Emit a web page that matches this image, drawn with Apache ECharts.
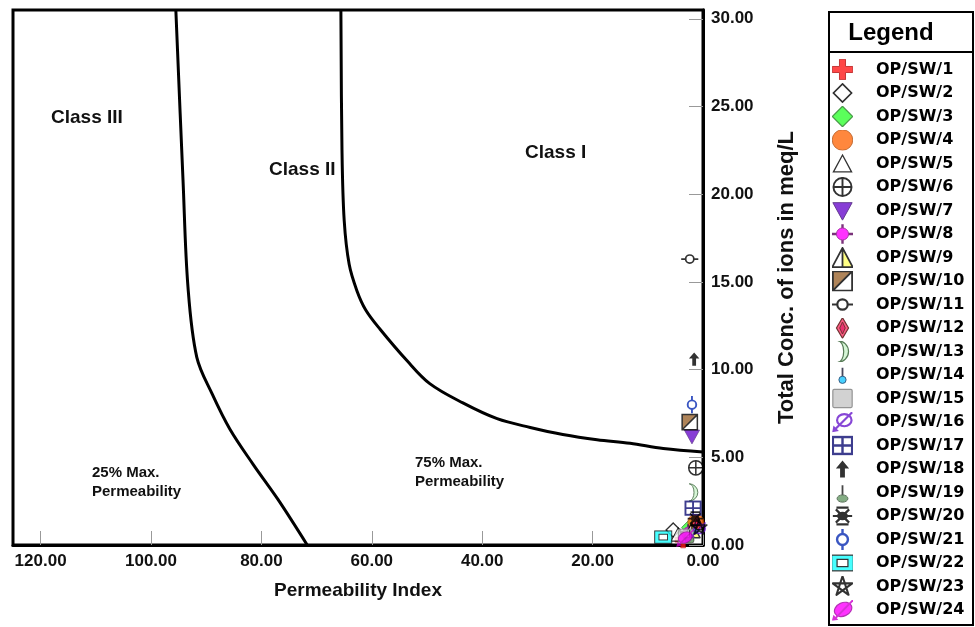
<!DOCTYPE html>
<html>
<head>
<meta charset="utf-8">
<script src="https://cdn.jsdelivr.net/npm/echarts@6/dist/echarts.min.js"></script>
<style>
html,body{margin:0;padding:0;background:#fff;}
#chart{width:975px;height:627px;}
</style>
</head>
<body>
<div id="chart"></div>
<script>
// ---------------- data ----------------
const sampleNames = ['OP/SW/1','OP/SW/2','OP/SW/3','OP/SW/4','OP/SW/5','OP/SW/6','OP/SW/7','OP/SW/8',
  'OP/SW/9','OP/SW/10','OP/SW/11','OP/SW/12','OP/SW/13','OP/SW/14','OP/SW/15','OP/SW/16',
  'OP/SW/17','OP/SW/18','OP/SW/19','OP/SW/20','OP/SW/21','OP/SW/22','OP/SW/23','OP/SW/24'];
// Permeability Index (x) and Total Conc. of ions in meq/L (y)
const permIndex = [3.6, 5.4, 2.4, 1.3, 4.5, 1.3, 2.0, 2.7, 2.0, 2.4, 2.4, 1.1,
                   1.8, 1.4, 3.1, 0.9, 1.8, 1.6, 2.4, 1.4, 2.0, 7.2, 0.7, 3.3];
const totalConc = [0.3, 0.85, 1.0, 1.3, 0.6, 4.4, 6.2, 0.75, 0.85, 7.0, 16.3, 1.2,
                   3.0, 1.0, 0.5, 0.85, 2.1, 10.6, 0.55, 1.5, 8.0, 0.45, 1.0, 0.4];
// Class I / Class II boundary curve
const boundary1PI = [65.6, 65.4, 65.0, 64.1, 62.7, 61.1, 58.5, 53.6, 49.5, 43.5, 37.3, 31.3, 25.4, 19.2, 13.2, 7.2, 0];
const boundary1TC = [30.5, 22.5, 18.5, 16.0, 14.5, 13.4, 12.3, 10.5, 9.2, 8.1, 7.2, 6.7, 6.3, 6.0, 5.8, 5.5, 5.3];
// Class II / Class III boundary curve
const boundary2PI = [95.5, 94.2, 93.3, 91.7, 88.9, 85.7, 81.5, 77.0, 71.7];
const boundary2TC = [30.5, 20.8, 14.7, 10.7, 8.6, 6.6, 4.6, 2.6, 0];
// axis ticks
const xTicks = [0, 20, 40, 60, 80, 100, 120];
const yTicks = [0, 5, 10, 15, 20, 25, 30];
const xTickStep = 20;
const yTickStep = 5;

// ---------------- marker styles ----------------
const markerSvg = [
 '<path d="M7.5 1.5h5v6h6v5h-6v6h-5v-6h-6v-5h6z" fill="#ff1a1a" stroke="#b30000" stroke-width="0.8"/>',
 '<path d="M10 2.5L17.5 10L10 17.5L2.5 10Z" fill="#fff" stroke="#000" stroke-width="1.4"/>',
 '<path d="M10 1.5L18.5 10L10 18.5L1.5 10Z" fill="#33ff33" stroke="#1a801a" stroke-width="1"/>',
 '<circle cx="10" cy="10" r="8.5" fill="#ff6a0d" stroke="#b34700" stroke-width="0.8"/>',
 '<path d="M10 3L17.5 17L2.5 17Z" fill="#fff" stroke="#000" stroke-width="1.1"/>',
 '<circle cx="10" cy="10" r="7.5" fill="#fff" stroke="#000" stroke-width="1.6"/><path d="M2.5 10H17.5M10 2.5V17.5" stroke="#000" stroke-width="1.6"/>',
 '<path d="M2 3.5H18L10 18Z" fill="#6a0dcc" stroke="#3d0a73" stroke-width="0.8"/>',
 '<path d="M1 10H19M10 2V18" stroke="#5a005a" stroke-width="2"/><circle cx="10" cy="10" r="5" fill="#ff00ff" stroke="#8c008c" stroke-width="0.8"/>',
 '<path d="M10 2L10 18L1.5 18Z" fill="#fff"/><path d="M10 2L10 18L18.5 18Z" fill="#ffff66"/><path d="M10 2L18.5 18L1.5 18Z M10 2V18" fill="none" stroke="#000" stroke-width="1.5" stroke-linejoin="round"/>',
 '<rect x="2" y="2" width="16" height="16" fill="#fff"/><path d="M2 2H18L2 18Z" fill="#9c6630"/><path d="M2 2H18V18H2Z M18 2L2 18" fill="none" stroke="#000" stroke-width="1.6"/>',
 '<path d="M1 10H6M14 10H19" stroke="#000" stroke-width="1.8"/><circle cx="10" cy="10" r="4.3" fill="#fff" stroke="#000" stroke-width="1.8"/>',
 '<path d="M10 1.5L15 10L10 18.5L5 10Z" fill="#ff3366" stroke="#4d0000" stroke-width="1"/><path d="M10 5L12.3 10L10 15L7.7 10Z" fill="#e6004c" stroke="#4d0000" stroke-width="0.8"/>',
 '<path d="M6 1A9 9 0 0 1 6 19A5 9 0 0 0 6 1Z" fill="#ccf5cc" stroke="#2d5a2d" stroke-width="1"/>',
 '<path d="M10 4V12" stroke="#1a1a33" stroke-width="1.5"/><circle cx="10" cy="14" r="3" fill="#1ac6ff" stroke="#003366" stroke-width="0.8"/>',
 '<rect x="2" y="2.5" width="16" height="15" rx="1" fill="#c8c8c8" stroke="#7a7a7a" stroke-width="1"/>',
 '<ellipse cx="11.5" cy="8.5" rx="6" ry="5" fill="none" stroke="#6a1acc" stroke-width="1.8"/><path d="M18 2L3.5 16.5" stroke="#6a1acc" stroke-width="1.8"/><path d="M1.5 18.5L2.5 13L7 17.5Z" fill="#6a1acc"/>',
 '<rect x="2" y="3" width="16" height="14" fill="#fff" stroke="#0d0d73" stroke-width="2"/><path d="M10 3V17M2 10H18" stroke="#0d0d73" stroke-width="2"/>',
 '<path d="M10 3L15.5 9.5H12V17H8V9.5H4.5Z" fill="#000"/>',
 '<path d="M10 4V13" stroke="#1a1a1a" stroke-width="1.5"/><ellipse cx="10" cy="15" rx="4.5" ry="3" fill="#669966" stroke="#334d33" stroke-width="0.8"/>',
 '<path d="M2 10H18M4.5 4.5L15.5 15.5M15.5 4.5L4.5 15.5M5 3H15M5 17H15" stroke="#000" stroke-width="1.8"/><ellipse cx="10" cy="10" rx="4.5" ry="3.5" fill="#000"/>',
 '<path d="M10 1V5.5M10 14.5V19" stroke="#0a2db3" stroke-width="2"/><circle cx="10" cy="10" r="4.5" fill="#fff" stroke="#0a2db3" stroke-width="2"/>',
 '<rect x="1" y="3.5" width="18" height="13" fill="#1affff" stroke="#000" stroke-width="1"/><rect x="5.5" y="7" width="9" height="6" fill="#fff" stroke="#000" stroke-width="1"/>',
 '<path d="M10 1.5L15 16.9L1.9 7.4H18.1L5 16.9Z" fill="none" stroke="#000" stroke-width="1.7" stroke-linejoin="round"/>',
 '<ellipse cx="10.5" cy="9.5" rx="7.5" ry="5.5" transform="rotate(-25 10.5 9.5)" fill="#ff00ff" stroke="#a300a3" stroke-width="1"/><path d="M19 1.5L4 17" stroke="#cc00cc" stroke-width="1.6"/><path d="M1 19.5L2.5 14L6.5 18Z" fill="#cc00cc"/>'
];
function svgIcon(inner, viewBox) {
  const svg = '<svg xmlns="http://www.w3.org/2000/svg" width="40" height="40" viewBox="' + viewBox + '" overflow="visible">' + inner + '</svg>';
  return 'image://data:image/svg+xml;charset=utf-8,' + encodeURIComponent(svg);
}
const icons = markerSvg.map(s => svgIcon(s, '0 0 20 20'));
const legendIcons = markerSvg.map(s => svgIcon(s, '1.3 1.3 17.4 17.4'));

const FONT = '"Liberation Sans", Arial, sans-serif';

// ---------------- series ----------------
const series = [];
function curve(pis, tcs) {
  return {
    type: 'line', data: pis.map((p, i) => [p, tcs[i]]), symbol: 'none', smooth: 0.35,
    lineStyle: { color: '#000', width: 3 }, silent: true, z: 1, animation: false
  };
}
series.push(curve(boundary1PI, boundary1TC));
series.push(curve(boundary2PI, boundary2TC));
sampleNames.forEach((n, i) => {
  series.push({
    name: n, type: 'scatter', data: [[permIndex[i], totalConc[i]]],
    symbol: icons[i], symbolSize: 19, symbolKeepAspect: true, z: 3 + i
  });
});

const chart = echarts.init(document.getElementById('chart'));
chart.setOption({
  animation: false,
  backgroundColor: '#fff',
  grid: { left: 13, right: 272, top: 10, bottom: 82, show: true, borderColor: '#000', borderWidth: 3 },
  xAxis: {
    type: 'value', inverse: true, min: 0, max: 125, interval: xTickStep, position: 'bottom',
    name: 'Permeability Index', nameLocation: 'middle', nameGap: 36,
    nameTextStyle: { fontFamily: FONT, fontWeight: 'bold', fontSize: 19, color: '#111' },
    axisLine: { show: true, onZero: false, lineStyle: { color: '#000', width: 3 } },
    axisTick: { show: true, inside: true, length: 14, customValues: xTicks, lineStyle: { color: '#999', width: 1 } },
    axisLabel: { fontFamily: FONT, fontWeight: 'bold', fontSize: 17, color: '#111', margin: 8, customValues: xTicks,
      formatter: v => (v % xTickStep === 0 ? Number(v).toFixed(2) : '') },
    splitLine: { show: false }
  },
  yAxis: {
    type: 'value', min: 0, max: 30.5, interval: yTickStep, position: 'right',
    name: 'Total Conc. of ions in meq/L', nameLocation: 'middle', nameGap: 73, nameRotate: 90,
    nameTextStyle: { fontFamily: FONT, fontWeight: 'bold', fontSize: 22, color: '#111' },
    axisLine: { show: true, onZero: false, lineStyle: { color: '#000', width: 3 } },
    axisTick: { show: true, inside: true, length: 14, customValues: yTicks, lineStyle: { color: '#999', width: 1 } },
    axisLabel: { fontFamily: FONT, fontWeight: 'bold', fontSize: 17, color: '#111', margin: 8, customValues: yTicks,
      formatter: v => (v % yTickStep === 0 ? Number(v).toFixed(2) : '') },
    splitLine: { show: false }
  },
  legend: {
    orient: 'vertical', left: 832, top: 59, height: 566, padding: 0,
    itemWidth: 21, itemHeight: 21, itemGap: 2.5,
    selectedMode: false,
    data: sampleNames.map((n, i) => ({ name: n, icon: legendIcons[i] })),
    textStyle: { fontFamily: '"DejaVu Sans", sans-serif', fontWeight: 'bold', fontSize: 16, color: '#000', padding: [0, 0, 0, 18] }
  },
  graphic: [
    { type: 'rect', shape: { x: 829, y: 12, width: 144, height: 613 }, style: { fill: 'none', stroke: '#000', lineWidth: 2 }, z: 10 },
    { type: 'line', shape: { x1: 829, y1: 52, x2: 973, y2: 52 }, style: { stroke: '#000', lineWidth: 2 }, z: 10 },
    { type: 'text', x: 891, y: 33, style: { text: 'Legend', font: 'bold 24px ' + FONT, fill: '#000', textAlign: 'center', textVerticalAlign: 'middle' } },
    { type: 'text', x: 51, y: 118, style: { text: 'Class III', font: 'bold 19px ' + FONT, fill: '#111', textVerticalAlign: 'middle' } },
    { type: 'text', x: 269, y: 170, style: { text: 'Class II', font: 'bold 19px ' + FONT, fill: '#111', textVerticalAlign: 'middle' } },
    { type: 'text', x: 525, y: 153, style: { text: 'Class I', font: 'bold 19px ' + FONT, fill: '#111', textVerticalAlign: 'middle' } },
    { type: 'text', x: 92, y: 473, style: { text: '25% Max.', font: 'bold 15px ' + FONT, fill: '#111', textVerticalAlign: 'middle' } },
    { type: 'text', x: 92, y: 492, style: { text: 'Permeability', font: 'bold 15px ' + FONT, fill: '#111', textVerticalAlign: 'middle' } },
    { type: 'text', x: 415, y: 463, style: { text: '75% Max.', font: 'bold 15px ' + FONT, fill: '#111', textVerticalAlign: 'middle' } },
    { type: 'text', x: 415, y: 482, style: { text: 'Permeability', font: 'bold 15px ' + FONT, fill: '#111', textVerticalAlign: 'middle' } }
  ],
  series: series
});
</script>
</body>
</html>
